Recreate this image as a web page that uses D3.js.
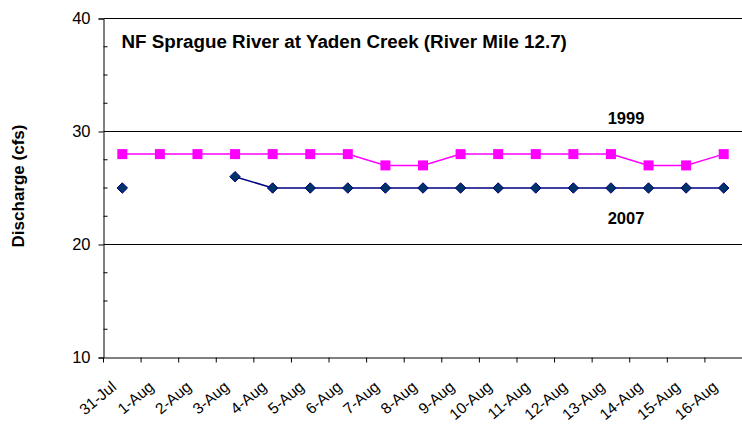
<!DOCTYPE html>
<html>
<head>
<meta charset="utf-8">
<script src="https://cdn.jsdelivr.net/npm/d3@7"></script>
<style>
  html, body { margin: 0; padding: 0; background: #fff; }
  svg { display: block; font-family: "Liberation Sans", Arial, sans-serif; }
</style>
</head>
<body>
<svg id="chart" width="742" height="429"></svg>
<script>
// Daily discharge, NF Sprague River at Yaden Creek
const dates = ["31-Jul", "1-Aug", "2-Aug", "3-Aug", "4-Aug", "5-Aug", "6-Aug", "7-Aug", "8-Aug",
               "9-Aug", "10-Aug", "11-Aug", "12-Aug", "13-Aug", "14-Aug", "15-Aug", "16-Aug"];
const flow1999 = [28, 28, 28, 28, 28, 28, 28, 27, 27, 28, 28, 28, 28, 28, 27, 27, 28];
const flow2007 = [25, null, null, 26, 25, 25, 25, 25, 25, 25, 25, 25, 25, 25, 25, 25, 25];
const yTicks = [10, 20, 30, 40];
const titleText = "NF Sprague River at Yaden Creek (River Mile 12.7)";
const yLabel = "Discharge (cfs)";

const svg = d3.select("#chart");
const plot = { left: 103.5, right: 742.5, top: 18.5, bottom: 357.5 };

const x = d3.scaleBand().domain(dates).range([plot.left, plot.right]).padding(0);
const y = d3.scaleLinear().domain([10, 40]).range([plot.bottom, plot.top]);
const cx = d => x(d) + x.bandwidth() / 2;

// horizontal gridlines
svg.append("g").selectAll("line").data(yTicks.filter(t => t > 10)).join("line")
  .attr("x1", plot.left).attr("x2", plot.right)
  .attr("y1", d => y(d)).attr("y2", d => y(d))
  .attr("stroke", "#000").attr("stroke-width", 1);

// y axis with outward major ticks
const yAxis = svg.append("g").attr("transform", `translate(${plot.left},0)`)
  .call(d3.axisLeft(y).tickValues(yTicks).tickSize(5).tickPadding(8).tickFormat(d3.format("d")));
yAxis.select(".domain").attr("stroke", "#000");
yAxis.selectAll(".tick line").attr("stroke", "#000");
yAxis.selectAll("text").attr("font-size", 16.5).attr("fill", "#000")
  .attr("font-family", "Liberation Sans, Arial, sans-serif");

// minor ticks pointing into the plot
const minor = d3.range(10, 40.01, 2.5).filter(v => v % 10 !== 0);
svg.append("g").selectAll("line").data(minor).join("line")
  .attr("x1", plot.left).attr("x2", plot.left + 4)
  .attr("y1", d => y(d)).attr("y2", d => y(d))
  .attr("stroke", "#000");

// x axis
const xAxis = svg.append("g").attr("transform", `translate(0,${plot.bottom})`)
  .call(d3.axisBottom(x).tickSize(0).tickFormat(""));
xAxis.select(".domain").attr("stroke", "#000");
xAxis.selectAll(".tick").remove();

// category boundary tick marks
const bounds = dates.map(d => x(d)).concat([plot.right]);
svg.append("g").selectAll("line").data(bounds).join("line")
  .attr("x1", d => d).attr("x2", d => d)
  .attr("y1", plot.bottom).attr("y2", plot.bottom + 5)
  .attr("stroke", "#000");

// rotated date labels
svg.append("g").selectAll("text").data(dates).join("text")
  .attr("transform", d => `translate(${cx(d) - 5},${plot.bottom + 31}) rotate(-40)`)
  .attr("text-anchor", "end")
  .attr("font-size", 15.5)
  .attr("fill", "#000")
  .text(d => d);

// series lines
const line = d3.line()
  .defined(d => d.v != null)
  .x(d => cx(d.k))
  .y(d => y(d.v));

const s1999 = dates.map((k, i) => ({ k, v: flow1999[i] }));
const s2007 = dates.map((k, i) => ({ k, v: flow2007[i] }));

svg.append("path").datum(s1999).attr("d", line)
  .attr("fill", "none").attr("stroke", "#FF00FF").attr("stroke-width", 1.5);
svg.append("path").datum(s2007).attr("d", line)
  .attr("fill", "none").attr("stroke", "#000080").attr("stroke-width", 1.5);

// square markers (1999)
svg.append("g").selectAll("rect").data(s1999.filter(d => d.v != null)).join("rect")
  .attr("x", d => cx(d.k) - 5).attr("y", d => y(d.v) - 5)
  .attr("width", 10).attr("height", 10)
  .attr("fill", "#FF00FF");

// diamond markers (2007)
const diamond = d3.symbol().type(d3.symbolDiamond2).size(70);
svg.append("g").selectAll("path").data(s2007.filter(d => d.v != null)).join("path")
  .attr("transform", d => `translate(${cx(d.k)},${y(d.v)})`)
  .attr("d", diamond)
  .attr("fill", "#003366").attr("stroke", "#000080").attr("stroke-width", 1);

// series labels
svg.append("text").attr("x", 626).attr("y", 124).attr("text-anchor", "middle")
  .attr("font-size", 16.5).attr("font-weight", "bold").text("1999");
svg.append("text").attr("x", 626).attr("y", 224).attr("text-anchor", "middle")
  .attr("font-size", 16.5).attr("font-weight", "bold").text("2007");

// chart title
svg.append("text").attr("x", 121.5).attr("y", 47.5)
  .attr("font-size", 18.8).attr("font-weight", "bold").text(titleText);

// y axis title
svg.append("text")
  .attr("transform", `translate(24,186) rotate(-90)`)
  .attr("text-anchor", "middle")
  .attr("font-size", 17).attr("font-weight", "bold").text(yLabel);
</script>
</body>
</html>
